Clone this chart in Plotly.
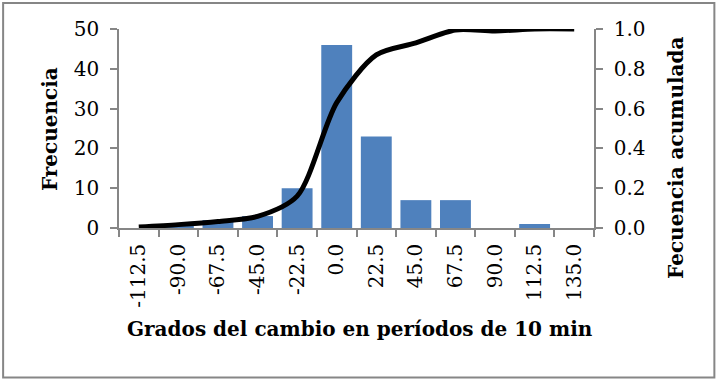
import plotly.graph_objects as go

categories = ["-112.5", "-90.0", "-67.5", "-45.0", "-22.5", "0.0", "22.5",
              "45.0", "67.5", "90.0", "112.5", "135.0"]
frecuencia = [0, 1, 2, 3, 10, 46, 23, 7, 7, 0, 1, 0]
acumulada = [0.005, 0.017, 0.033, 0.058, 0.16, 0.63, 0.87, 0.93, 0.995, 0.99, 1.0, 1.0]

W, H = 719, 381
L, R, T, B = 119, 594.5, 29, 228
pw, ph = R - L, B - T

def px(x):
    return (x - L) / pw

def py(y):
    return (B - y) / ph

FONT = "DejaVu Serif"
AX = "#868686"

fig = go.Figure()
fig.add_trace(go.Bar(x=categories, y=frecuencia, marker=dict(color="#4F81BD", line=dict(width=0)),
                     yaxis="y", showlegend=False, hoverinfo="skip"))
fig.add_trace(go.Scatter(x=categories, y=acumulada, mode="lines",
                         line=dict(color="black", width=5, shape="spline", smoothing=0.8),
                         yaxis="y2", showlegend=False, hoverinfo="skip"))

tick_font = dict(family=FONT, size=20, color="black")
fig.update_layout(
    width=W, height=H,
    margin=dict(l=L, r=W - R, t=T, b=H - B),
    paper_bgcolor="white", plot_bgcolor="white",
    bargap=0.22,
    font=dict(family=FONT, size=20, color="black"),
    xaxis=dict(type="category", tickangle=-90, showline=True, linecolor=AX, linewidth=1.5,
               ticks="outside", ticklen=7, tickcolor=AX, tickwidth=1.5, tickson="boundaries",
               showgrid=False, tickfont=tick_font, ticklabelstandoff=6),
    yaxis=dict(range=[0, 50], dtick=10, showline=True, linecolor=AX, linewidth=1.5,
               ticks="outside", ticklen=7, tickcolor=AX, tickwidth=1.5, showgrid=False,
               zeroline=False, tickfont=tick_font, ticklabelstandoff=7),
    yaxis2=dict(range=[0, 1], dtick=0.2, tickformat=".1f", overlaying="y", side="right",
                showline=True, linecolor=AX, linewidth=1.5, ticks="outside", ticklen=7,
                tickcolor=AX, tickwidth=1.5, showgrid=False, zeroline=False,
                tickfont=tick_font, ticklabelstandoff=7),
    annotations=[
        dict(text="<b>Frecuencia</b>", x=px(50), y=py(129), xref="paper", yref="paper",
             textangle=-90, showarrow=False, xanchor="center", yanchor="middle",
             font=dict(family=FONT, size=20)),
        dict(text="<b>Fecuencia acumulada</b>", x=px(676), y=py(157.5), xref="paper", yref="paper",
             textangle=-90, showarrow=False, xanchor="center", yanchor="middle",
             font=dict(family=FONT, size=20)),
        dict(text="<b>Grados del cambio en períodos de 10 min</b>", x=px(360), y=py(329),
             xref="paper", yref="paper", showarrow=False, xanchor="center", yanchor="middle",
             font=dict(family=FONT, size=20)),
    ],
    shapes=[dict(type="rect", xref="paper", yref="paper", x0=px(3), x1=px(715), y0=py(377.5), y1=py(3),
                 line=dict(color=AX, width=2), layer="below")],
)

fig.write_html("out.html", config={"displayModeBar": False},
               post_script="document.body.style.margin='0';")
